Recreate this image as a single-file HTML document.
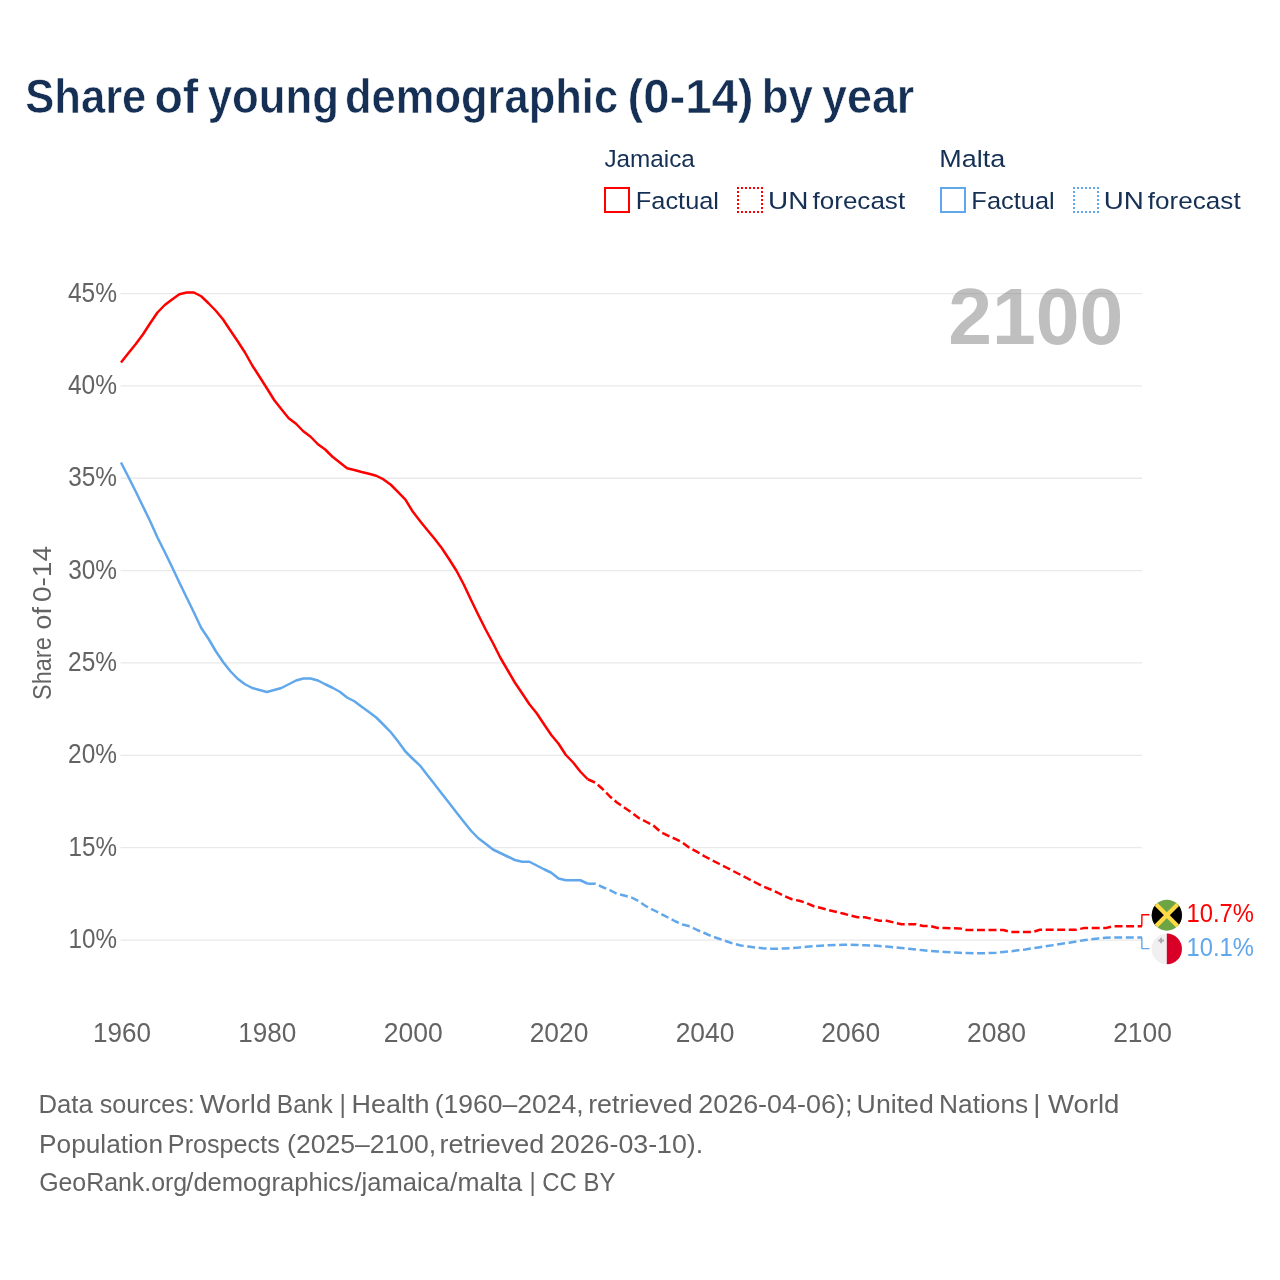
<!DOCTYPE html>
<html lang="en"><head><meta charset="utf-8"><title>Share of young demographic (0-14) by year</title>
<style>html,body{margin:0;padding:0;background:#fff}svg{display:block}text{font-family:"Liberation Sans",sans-serif;white-space:pre}</style></head><body>
<svg width="1280" height="1280" viewBox="0 0 1280 1280">
<rect width="1280" height="1280" fill="#fff"/>
<g stroke="#e9e9e9" stroke-width="1.3">
<line x1="120.50" y1="293.53" x2="1142.00" y2="293.53"/>
<line x1="120.50" y1="385.89" x2="1142.00" y2="385.89"/>
<line x1="120.50" y1="478.25" x2="1142.00" y2="478.25"/>
<line x1="120.50" y1="570.61" x2="1142.00" y2="570.61"/>
<line x1="120.50" y1="662.97" x2="1142.00" y2="662.97"/>
<line x1="120.50" y1="755.33" x2="1142.00" y2="755.33"/>
<line x1="120.50" y1="847.69" x2="1142.00" y2="847.69"/>
<line x1="120.50" y1="940.05" x2="1142.00" y2="940.05"/>
</g>
<g fill="none" stroke-width="2">
<rect x="605" y="188" width="24" height="24" stroke="#ff0000"/>
<rect x="738" y="188" width="24" height="24" stroke="#ff0000" stroke-dasharray="2 2" stroke-dashoffset="1"/>
<rect x="941" y="188" width="24" height="24" stroke="#60a7eb"/>
<rect x="1074" y="188" width="24" height="24" stroke="#60a7eb" stroke-dasharray="2 2" stroke-dashoffset="1"/>
</g>
<text y="112.80" font-size="49" font-weight="bold" stroke="#fff" stroke-width="0.6" fill="#153054"><tspan x="25.24" textLength="121.10" lengthAdjust="spacingAndGlyphs">Share</tspan> <tspan x="154.52" textLength="43.79" lengthAdjust="spacingAndGlyphs">of</tspan> <tspan x="207.70" textLength="131.24" lengthAdjust="spacingAndGlyphs">young</tspan> <tspan x="344.95" textLength="273.16" lengthAdjust="spacingAndGlyphs">demographic</tspan> <tspan x="627.44" textLength="126.09" lengthAdjust="spacingAndGlyphs">(0-14)</tspan> <tspan x="761.71" textLength="51.19" lengthAdjust="spacingAndGlyphs">by</tspan> <tspan x="822.08" textLength="92.22" lengthAdjust="spacingAndGlyphs">year</tspan></text>
<text x="604.39" y="167.25" font-size="24.5" fill="#153054" textLength="90.44" lengthAdjust="spacingAndGlyphs">Jamaica</text>
<text x="635.84" y="209.10" font-size="24.5" fill="#153054" textLength="83.16" lengthAdjust="spacingAndGlyphs">Factual</text>
<text y="209.10" font-size="24.5" fill="#153054"><tspan x="768.12" textLength="40.35" lengthAdjust="spacingAndGlyphs">UN</tspan> <tspan x="812.51" textLength="92.62" lengthAdjust="spacingAndGlyphs">forecast</tspan></text>
<text x="939.36" y="167.25" font-size="24.5" fill="#153054" textLength="65.80" lengthAdjust="spacingAndGlyphs">Malta</text>
<text x="971.36" y="209.10" font-size="24.5" fill="#153054" textLength="83.41" lengthAdjust="spacingAndGlyphs">Factual</text>
<text y="209.10" font-size="24.5" fill="#153054"><tspan x="1103.67" textLength="40.06" lengthAdjust="spacingAndGlyphs">UN</tspan> <tspan x="1147.86" textLength="92.77" lengthAdjust="spacingAndGlyphs">forecast</tspan></text>
<text x="948.37" y="344.20" font-size="79" font-weight="bold" fill="#808080" fill-opacity="0.5" textLength="174.98" lengthAdjust="spacingAndGlyphs">2100</text>
<text x="67.94" y="301.53" font-size="27" fill="#636363" textLength="49.08" lengthAdjust="spacingAndGlyphs">45%</text>
<text x="67.94" y="393.89" font-size="27" fill="#636363" textLength="49.08" lengthAdjust="spacingAndGlyphs">40%</text>
<text x="68.18" y="486.25" font-size="27" fill="#636363" textLength="48.86" lengthAdjust="spacingAndGlyphs">35%</text>
<text x="68.18" y="578.61" font-size="27" fill="#636363" textLength="48.86" lengthAdjust="spacingAndGlyphs">30%</text>
<text x="68.10" y="670.97" font-size="27" fill="#636363" textLength="48.89" lengthAdjust="spacingAndGlyphs">25%</text>
<text x="68.10" y="763.33" font-size="27" fill="#636363" textLength="48.89" lengthAdjust="spacingAndGlyphs">20%</text>
<text x="68.47" y="855.69" font-size="27" fill="#636363" textLength="48.49" lengthAdjust="spacingAndGlyphs">15%</text>
<text x="68.47" y="948.05" font-size="27" fill="#636363" textLength="48.49" lengthAdjust="spacingAndGlyphs">10%</text>
<text x="92.98" y="1041.80" font-size="27" fill="#636363" textLength="57.93" lengthAdjust="spacingAndGlyphs">1960</text>
<text x="238.29" y="1041.80" font-size="27" fill="#636363" textLength="58.08" lengthAdjust="spacingAndGlyphs">1980</text>
<text x="383.67" y="1041.80" font-size="27" fill="#636363" textLength="58.99" lengthAdjust="spacingAndGlyphs">2000</text>
<text x="529.65" y="1041.80" font-size="27" fill="#636363" textLength="58.72" lengthAdjust="spacingAndGlyphs">2020</text>
<text x="675.65" y="1041.80" font-size="27" fill="#636363" textLength="58.72" lengthAdjust="spacingAndGlyphs">2040</text>
<text x="821.35" y="1041.80" font-size="27" fill="#636363" textLength="58.76" lengthAdjust="spacingAndGlyphs">2060</text>
<text x="967.10" y="1041.80" font-size="27" fill="#636363" textLength="58.94" lengthAdjust="spacingAndGlyphs">2080</text>
<text x="1113.16" y="1041.80" font-size="27" fill="#636363" textLength="58.67" lengthAdjust="spacingAndGlyphs">2100</text>
<text transform="translate(51.10 699.94) rotate(-90)" font-size="25" fill="#636363" textLength="62.70" lengthAdjust="spacingAndGlyphs">Share</text>
<text transform="translate(51.10 629.45) rotate(-90)" font-size="25" fill="#636363" textLength="22.27" lengthAdjust="spacingAndGlyphs">of</text>
<text transform="translate(51.10 602.04) rotate(-90)" font-size="25" fill="#636363" textLength="56.00" lengthAdjust="spacingAndGlyphs">0-14</text>
<text x="1186.51" y="921.50" font-size="26" fill="#ff0000" textLength="67.46" lengthAdjust="spacingAndGlyphs">10.7%</text>
<text x="1186.51" y="955.50" font-size="26" fill="#60a7eb" textLength="67.46" lengthAdjust="spacingAndGlyphs">10.1%</text>
<text y="1113.30" font-size="25.5" fill="#636363"><tspan x="38.41" textLength="54.30" lengthAdjust="spacingAndGlyphs">Data</tspan> <tspan x="99.73" textLength="95.11" lengthAdjust="spacingAndGlyphs">sources:</tspan> <tspan x="199.68" textLength="71.57" lengthAdjust="spacingAndGlyphs">World</tspan> <tspan x="276.76" textLength="69.19" lengthAdjust="spacingAndGlyphs">Bank |</tspan> <tspan x="351.59" textLength="77.79" lengthAdjust="spacingAndGlyphs">Health</tspan> <tspan x="434.68" textLength="149.02" lengthAdjust="spacingAndGlyphs">(1960–2024,</tspan> <tspan x="588.20" textLength="104.37" lengthAdjust="spacingAndGlyphs">retrieved</tspan> <tspan x="698.23" textLength="154.16" lengthAdjust="spacingAndGlyphs">2026-04-06);</tspan> <tspan x="856.61" textLength="77.17" lengthAdjust="spacingAndGlyphs">United</tspan> <tspan x="939.09" textLength="89.15" lengthAdjust="spacingAndGlyphs">Nations</tspan> <tspan x="1033.26" textLength="86.15" lengthAdjust="spacingAndGlyphs">| World</tspan></text>
<text y="1152.50" font-size="25.5" fill="#636363"><tspan x="39.10" textLength="123.87" lengthAdjust="spacingAndGlyphs">Population</tspan> <tspan x="167.87" textLength="111.86" lengthAdjust="spacingAndGlyphs">Prospects</tspan> <tspan x="287.04" textLength="149.20" lengthAdjust="spacingAndGlyphs">(2025–2100,</tspan> <tspan x="439.48" textLength="104.80" lengthAdjust="spacingAndGlyphs">retrieved</tspan> <tspan x="549.95" textLength="153.27" lengthAdjust="spacingAndGlyphs">2026-03-10).</tspan></text>
<text y="1191.10" font-size="25.5" fill="#636363"><tspan x="39.14" textLength="148.10" lengthAdjust="spacingAndGlyphs">GeoRank.org</tspan><tspan x="186.31" textLength="167.58" lengthAdjust="spacingAndGlyphs">/demographics</tspan><tspan x="354.52" textLength="94.99" lengthAdjust="spacingAndGlyphs">/jamaica</tspan><tspan x="450.11" textLength="72.00" lengthAdjust="spacingAndGlyphs">/malta</tspan> <tspan x="529.54" textLength="85.81" lengthAdjust="spacingAndGlyphs">| CC BY</tspan></text>
<g fill="none" stroke-width="2.5" stroke-linejoin="round">
<path d="M121.00 462.50 L128.29 476.75 L135.59 491.25 L142.88 506.25 L150.17 521.25 L157.46 537.50 L164.76 552.00 L172.05 567.00 L179.34 582.50 L186.64 597.50 L193.93 612.50 L201.22 628.00 L208.51 638.75 L215.81 651.25 L223.10 662.00 L230.39 671.25 L237.69 678.75 L244.98 684.25 L252.27 688.00 L259.56 690.00 L266.86 692.00 L274.15 690.00 L281.44 688.00 L288.74 684.25 L296.03 680.50 L303.32 678.50 L310.61 678.50 L317.91 680.50 L325.20 684.25 L332.49 687.75 L339.79 691.75 L347.08 697.50 L354.37 701.25 L361.66 706.75 L368.96 712.00 L376.25 717.50 L383.54 724.75 L390.84 732.25 L398.13 741.60 L405.42 751.50 L412.71 758.75 L420.01 765.60 L427.30 775.00 L434.59 784.25 L441.89 793.75 L449.18 803.00 L456.47 812.50 L463.76 821.75 L471.06 830.75 L478.35 838.25 L485.64 843.75 L492.94 849.50 L500.23 853.00 L507.52 856.50 L514.81 860.00 L522.11 861.75 L529.40 861.75 L536.69 865.50 L543.99 869.25 L551.28 872.75 L558.57 878.50 L565.86 880.25 L573.16 880.25 L580.45 880.25 L587.74 883.75" stroke="#60a7eb"/>
<path d="M587.74 883.75 L595.04 883.75 L602.33 887.00 L609.62 890.00 L616.91 893.75 L624.21 895.50 L631.50 897.50 L638.79 901.25 L646.09 906.25 L653.38 910.00 L660.67 913.75 L667.96 917.50 L675.26 921.25 L682.55 924.50 L689.84 926.25 L697.14 930.00 L704.43 933.00 L711.72 936.25 L719.01 938.75 L726.31 941.25 L733.60 943.75 L740.89 945.50 L748.19 946.50 L755.48 947.50 L762.77 948.25 L770.06 948.75 L777.36 948.75 L784.65 948.50 L791.94 948.00 L799.24 947.50 L806.53 946.75 L813.82 946.25 L821.11 945.75 L828.41 945.25 L835.70 945.00 L842.99 944.75 L850.29 944.75 L857.58 945.00 L864.87 945.25 L872.16 945.50 L879.46 946.00 L886.75 946.50 L894.04 947.25 L901.34 948.00 L908.63 948.75 L915.92 949.50 L923.21 950.25 L930.51 951.00 L937.80 951.50 L945.09 952.00 L952.39 952.40 L959.68 952.80 L966.97 953.10 L974.26 953.30 L981.56 953.30 L988.85 953.10 L996.14 952.70 L1003.44 952.00 L1010.73 951.25 L1018.02 950.30 L1025.31 949.40 L1032.61 948.30 L1039.90 947.20 L1047.19 946.10 L1054.49 945.00 L1061.78 943.75 L1069.07 942.70 L1076.36 941.40 L1083.66 940.30 L1090.95 939.40 L1098.24 938.40 L1105.54 937.70 L1112.83 937.50 L1120.12 937.50 L1127.41 937.50 L1134.71 937.50 L1142.00 937.60" stroke="#60a7eb" stroke-dasharray="7.947 3.576"/>
<path d="M121.00 362.50 L128.29 353.25 L135.59 344.25 L142.88 334.50 L150.17 323.25 L157.46 312.50 L164.76 305.00 L172.05 299.50 L179.34 294.25 L186.64 292.50 L193.93 292.50 L201.22 296.25 L208.51 303.25 L215.81 310.75 L223.10 319.50 L230.39 330.50 L237.69 341.25 L244.98 352.50 L252.27 365.50 L259.56 376.75 L266.86 388.25 L274.15 400.00 L281.44 409.25 L288.74 418.25 L296.03 423.75 L303.32 431.25 L310.61 436.75 L317.91 444.25 L325.20 449.50 L332.49 456.75 L339.79 462.50 L347.08 468.25 L354.37 470.00 L361.66 472.00 L368.96 473.75 L376.25 475.75 L383.54 479.40 L390.84 484.75 L398.13 492.10 L405.42 499.60 L412.71 511.60 L420.01 521.00 L427.30 530.00 L434.59 538.75 L441.89 548.25 L449.18 559.25 L456.47 570.75 L463.76 584.50 L471.06 600.00 L478.35 615.00 L485.64 629.50 L492.94 643.00 L500.23 657.50 L507.52 670.00 L514.81 682.50 L522.11 693.25 L529.40 704.25 L536.69 713.25 L543.99 724.25 L551.28 735.00 L558.57 743.75 L565.86 755.00 L573.16 762.50 L580.45 771.75 L587.74 779.25" stroke="#ff0000"/>
<path d="M587.74 779.25 L595.04 782.50 L602.33 788.75 L609.62 796.25 L616.91 802.50 L624.21 807.50 L631.50 812.50 L638.79 818.00 L646.09 821.75 L653.38 825.50 L660.67 832.00 L667.96 835.60 L675.26 838.90 L682.55 842.60 L689.84 848.10 L697.14 851.90 L704.43 856.25 L711.72 860.00 L719.01 863.75 L726.31 867.50 L733.60 871.25 L740.89 875.00 L748.19 878.75 L755.48 882.50 L762.77 886.25 L770.06 889.25 L777.36 892.50 L784.65 896.25 L791.94 899.25 L799.24 900.75 L806.53 903.00 L813.82 906.25 L821.11 908.00 L828.41 910.00 L835.70 911.75 L842.99 913.50 L850.29 915.50 L857.58 917.25 L864.87 917.25 L872.16 919.00 L879.46 920.75 L886.75 920.75 L894.04 922.50 L901.34 924.25 L908.63 924.25 L915.92 924.25 L923.21 926.00 L930.51 926.00 L937.80 928.00 L945.09 928.00 L952.39 928.20 L959.68 928.40 L966.97 930.00 L974.26 930.00 L981.56 930.00 L988.85 930.00 L996.14 930.00 L1003.44 930.00 L1010.73 932.00 L1018.02 932.00 L1025.31 932.00 L1032.61 932.00 L1039.90 929.70 L1047.19 929.70 L1054.49 929.70 L1061.78 929.70 L1069.07 929.70 L1076.36 929.70 L1083.66 928.10 L1090.95 928.10 L1098.24 928.10 L1105.54 928.10 L1112.83 926.25 L1120.12 926.25 L1127.41 926.25 L1134.71 926.25 L1142.00 926.25" stroke="#ff0000" stroke-dasharray="7.967 3.585"/>
</g>
<g fill="none" stroke-width="1.4" stroke-linejoin="round">
<path d="M1141.8 926.3 L1141.9 914.8 L1149.5 914.8" stroke="#ff0000"/>
<path d="M1141.8 937.6 L1141.9 948.6 L1149.5 948.6" stroke="#60a7eb"/>
</g>
<defs><clipPath id="cj"><ellipse cx="1166.85" cy="915.2" rx="15.15" ry="15.45"/></clipPath><clipPath id="cm"><ellipse cx="1166.8" cy="948.9" rx="15.15" ry="15.45"/></clipPath></defs>
<g clip-path="url(#cj)"><rect x="1151" y="899" width="32" height="33" fill="#6da544"/><path d="M1150.85 899.2 L1166.85 915.2 L1150.85 931.2 Z M1182.85 899.2 L1166.85 915.2 L1182.85 931.2 Z" fill="#000"/><path d="M1150.85 899.2 L1182.85 931.2 M1182.85 899.2 L1150.85 931.2" stroke="#ffda44" stroke-width="4.2" fill="none"/></g>
<g clip-path="url(#cm)"><rect x="1151" y="933" width="15.8" height="33" fill="#f0f0f0"/><rect x="1166.8" y="933" width="16" height="33" fill="#d80027"/><path d="M1161.1 937.7 V943.3 M1158.3 940.5 H1163.9" stroke="#a8a8ac" stroke-width="1.8" fill="none"/></g>
</svg></body></html>
